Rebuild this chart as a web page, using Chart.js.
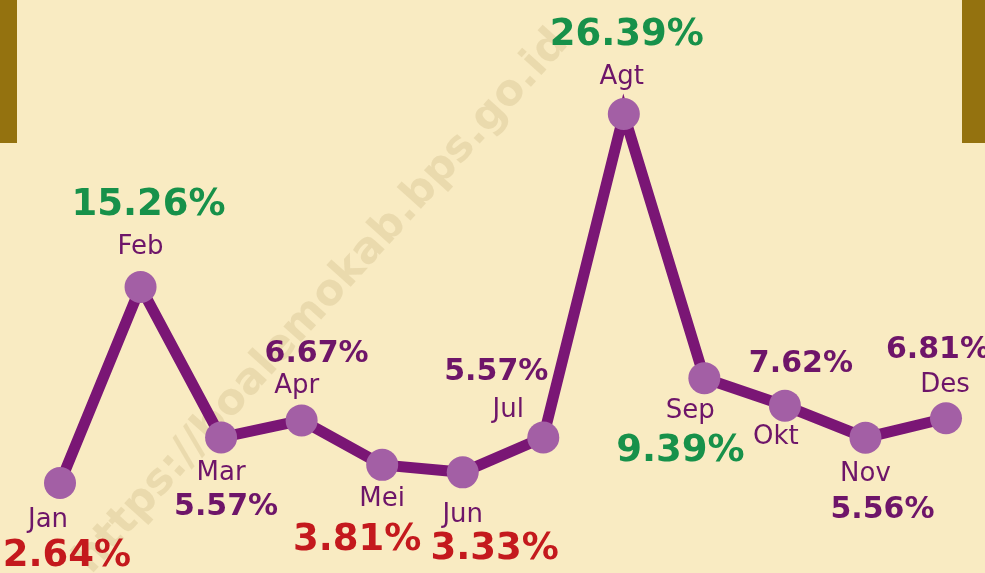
<!DOCTYPE html>
<html>
<head>
<meta charset="utf-8">
<script src="https://cdn.jsdelivr.net/npm/chart.js@4/dist/chart.umd.min.js"></script>
<style>
  html, body { margin: 0; padding: 0; background: #f9ebc2; }
  #wrap { width: 985px; height: 573px; position: relative; }
</style>
</head>
<body>
<div id="wrap"><canvas id="myChart"></canvas></div>
<script>
'use strict';
var months = ['Jan', 'Feb', 'Mar', 'Apr', 'Mei', 'Jun', 'Jul', 'Agt', 'Sep', 'Okt', 'Nov', 'Des'];
var rates = [2.64, 15.26, 5.57, 6.67, 3.81, 3.33, 5.57, 26.39, 9.39, 7.62, 5.56, 6.81];
var rateLabels = ['2.64%', '15.26%', '5.57%', '6.67%', '3.81%', '3.33%', '5.57%', '26.39%', '9.39%', '7.62%', '5.56%', '6.81%'];
// h = high (green), l = low (red), n = normal (purple)
var rateKind = ['l', 'h', 'n', 'n', 'l', 'l', 'n', 'h', 'h', 'n', 'n', 'n'];

// label offsets from the marker: [monthDx, monthDy, pctDx, pctDy]
var labelOffsets = [
    [-12, 37, 7, 73],
    [0, -40, 8, -82],
    [0, 36, 5, 70],
    [-5, -34, 15, -66],
    [0, 34, -25, 76],
    [0, 43, 32, 77],
    [-35, -27, -47, -65],
    [-2, -37, 3, -79],
    [-14, 33, -24, 73],
    [-9, 32, 16, -41],
    [0, 37, 17, 73],
    [-1, -33, -8, -68]
];

var colors = {
    bg: '#f9ebc2',
    bar: '#94720f',
    line: '#7a1675',
    marker: '#a35fa5',
    month: '#6e1569',
    h: '#17914a',
    l: '#c4191d',
    n: '#6e1569'
};

var FONT = '"DejaVu Sans", "Noto Sans", sans-serif';

/**
 * Background, corner bars and watermark
 */
var backdrop = {
    id: 'backdrop',
    beforeDraw: function(chart) {
        var ctx = chart.ctx;
        ctx.save();
        ctx.fillStyle = colors.bg;
        ctx.fillRect(0, 0, chart.width, chart.height);
        ctx.fillStyle = colors.bar;
        ctx.fillRect(0, 0, 17, 143);
        ctx.fillRect(962, 0, chart.width - 962, 143);
        // watermark
        ctx.translate(322, 302);
        ctx.rotate(-48 * Math.PI / 180);
        ctx.font = 'bold 43px ' + FONT;
        ctx.fillStyle = 'rgba(205, 185, 135, 0.35)';
        ctx.textAlign = 'center';
        ctx.textBaseline = 'middle';
        ctx.fillText('https://boalemokab.bps.go.id', 0, 0);
        ctx.restore();
    }
};

/**
 * Month names and percentages next to each point
 */
var pointLabels = {
    id: 'pointLabels',
    afterDatasetsDraw: function(chart) {
        var ctx = chart.ctx;
        var meta = chart.getDatasetMeta(0);
        ctx.save();
        ctx.textAlign = 'center';
        ctx.textBaseline = 'middle';
        meta.data.forEach(function(pt, i) {
            var off = labelOffsets[i];
            ctx.font = '26px ' + FONT;
            ctx.fillStyle = colors.month;
            ctx.fillText(months[i], pt.x + off[0], pt.y + off[1]);
            var kind = rateKind[i];
            ctx.font = 'bold ' + (kind === 'n' ? 30 : 37) + 'px ' + FONT;
            ctx.fillStyle = colors[kind];
            ctx.fillText(rateLabels[i], pt.x + off[2], pt.y + off[3]);
        });
        ctx.restore();
    }
};

var ctx = document.getElementById('myChart');
var myChart = new Chart(ctx, {
    type: 'line',
    data: {
        labels: months,
        datasets: [{
            data: rates,
            borderColor: colors.line,
            borderWidth: 11,
            pointRadius: 16,
            pointHoverRadius: 16,
            pointBackgroundColor: colors.marker,
            pointBorderWidth: 0,
            tension: 0,
            clip: false
        }]
    },
    options: {
        responsive: true,
        maintainAspectRatio: false,
        animation: false,
        layout: {
            autoPadding: false,
            padding: { left: 60, right: 39, top: 0, bottom: 0 }
        },
        plugins: {
            legend: { display: false },
            tooltip: { enabled: false }
        },
        scales: {
            x: { display: false, offset: false },
            y: { display: false, min: -3.15, max: 33.73 }
        }
    },
    plugins: [backdrop, pointLabels]
});
</script>
</body>
</html>
